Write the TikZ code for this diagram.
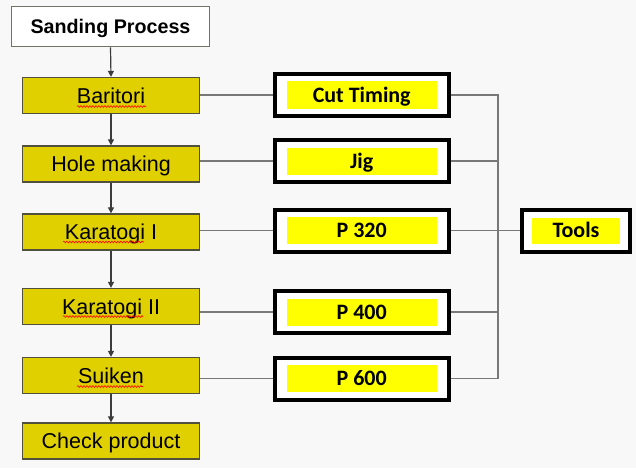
\documentclass[tikz,border=0pt]{standalone}
\usepackage{fontspec}
\setmainfont{Liberation Sans}
\newfontfamily\calib{Carlito}
\usetikzlibrary{arrows.meta,decorations.pathmorphing}
\definecolor{bgc}{RGB}{248,248,248}
\definecolor{procfill}{RGB}{225,208,0}
\definecolor{procline}{RGB}{80,80,60}
\definecolor{tagyellow}{RGB}{255,255,0}
\definecolor{linkc}{RGB}{120,120,120}
\definecolor{flowc}{RGB}{60,60,60}
\begin{document}
\begin{tikzpicture}[x=1pt,y=-1pt,
  titlebox/.style={draw=procline!80, line width=1.3pt, fill=white, minimum width=198pt, minimum height=40pt, inner sep=0pt, text height=14.1pt, text depth=0pt, font=\fontsize{19.7}{22}\selectfont\bfseries},
  proc/.style={draw=procline, line width=1.3pt, fill=procfill, minimum width=177pt, minimum height=36pt, inner sep=0pt, text height=15.4pt, text depth=0pt, font=\fontsize{21.5}{24}\selectfont},
  toolbox/.style={draw=black, line width=4pt, fill=white, minimum width=174pt, minimum height=42pt, inner sep=0pt},
  tag/.style={fill=tagyellow, minimum width=150pt, minimum height=27pt, inner sep=0pt, text height=14.2pt, text depth=0pt, font=\calib\fontsize{22}{24}\selectfont\bfseries},
  link/.style={draw=linkc, line width=1.2pt},
  flow/.style={draw=flowc, line width=1.2pt, -{Triangle[length=6pt,width=6pt]}},
  spell/.style={draw=red, line width=0.6pt, decorate, decoration={snake, amplitude=0.9pt, segment length=3pt}}
]
\fill[bgc] (0,0) rectangle (636,468);
\useasboundingbox (0,0) rectangle (636,468);

% process column
\node[titlebox] (sp) at (110.5,26.75) {Sanding Process};
\node[proc] (bar) at (111,95.5) {Baritori};
\node[proc] (hole) at (111,164) {Hole making};
\node[proc] (ka1) at (111,232) {Karatogi I};
\node[proc] (ka2) at (111,306.5) {Karatogi II};
\node[proc] (sui) at (111,375.5) {Suiken};
\node[proc] (chk) at (111,441) {Check product};

\draw[flow] (sp.south) -- (bar.north);
\draw[flow] (bar.south) -- (hole.north);
\draw[flow] (hole.south) -- (ka1.north);
\draw[flow] (ka1.south) -- (ka2.north);
\draw[flow] (ka2.south) -- (sui.north);
\draw[flow] (sui.south) -- (chk.north);

% spell-check underlines
\draw[spell] (77,106.5) -- (146,106.5);
\draw[spell] (63,242) -- (144,242);
\draw[spell] (63,316.5) -- (143,316.5);
\draw[spell] (77,386.5) -- (143,386.5);

% tool boxes
\node[toolbox] (cutb) at (361.7,95) {};
\node[tag] (cut) at (cutb) {Cut Timing};
\node[toolbox] (jigb) at (361.7,161) {};
\node[tag] (jig) at (jigb) {Jig};
\node[toolbox] (p3b) at (361.7,230.5) {};
\node[tag] (p3) at (p3b) {P 320};
\node[toolbox] (p4b) at (361.7,312) {};
\node[tag] (p4) at (p4b) {P 400};
\node[toolbox] (p6b) at (361.7,378.5) {};
\node[tag] (p6) at (p6b) {P 600};

\node[toolbox, minimum width=108pt] (toolsb) at (576,230.5) {};
\node[tag, minimum width=88pt, minimum height=26pt] (tools) at (toolsb) {Tools};

% links process -> tools
\draw[link] (bar.east |- cutb.west) -- (cutb.west);
\draw[link] (hole.east |- jigb.west) -- (jigb.west);
\draw[link] (ka1.east |- p3b.west) -- (p3b.west);
\draw[link] (ka2.east |- p4b.west) -- (p4b.west);
\draw[link] (sui.east |- p6b.west) -- (p6b.west);

% bus
\coordinate (busx) at (498,0);
\draw[link] (cutb.east) -- (cutb.east -| busx) -- (p6b.east -| busx) -- (p6b.east);
\draw[link] (jigb.east) -- (jigb.east -| busx);
\draw[link] (p4b.east) -- (p4b.east -| busx);
\draw[link] (p3b.east) -- (toolsb.west);
\end{tikzpicture}
\end{document}
